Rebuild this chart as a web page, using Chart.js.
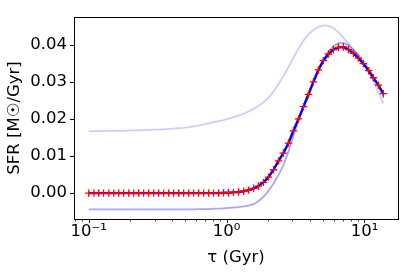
<!DOCTYPE html>
<html>
<head>
<meta charset="utf-8">
<script src="https://cdn.jsdelivr.net/npm/chart.js@4"></script>
<style>
  html, body { margin: 0; padding: 0; background: #fff; }
</style>
</head>
<body>
<canvas id="sfr-chart" width="407" height="272"></canvas>
<script>
// lookback time grid (Gyr)
const tau = [0.1, 0.109, 0.118, 0.128, 0.14, 0.152, 0.165, 0.179, 0.195, 0.212,
  0.23, 0.25, 0.272, 0.296, 0.321, 0.349, 0.38, 0.413, 0.449, 0.488,
  0.53, 0.576, 0.626, 0.681, 0.74, 0.804, 0.874, 0.95, 1.03, 1.12,
  1.22, 1.33, 1.44, 1.57, 1.7, 1.85, 2.01, 2.19, 2.38, 2.58,
  2.81, 3.05, 3.32, 3.61, 3.92, 4.26, 4.63, 5.03, 5.47, 5.95,
  6.46, 7.03, 7.64, 8.3, 9.02, 9.81, 10.7, 11.6, 12.6, 13.7];

// best fit (blue line + red crosses)
const sfrFit = [0, 0, 0, 0, 0, 0, 0, 0, 0, 0,
  0, 0, 0, 0, 0, 0, 0, 0, 0, 0,
  0, 0, 0, 0, 0, 0, 0, 0.0001, 0.0001, 0.0002,
  0.0003, 0.0005, 0.0008, 0.0013, 0.0019, 0.0029, 0.0043, 0.0063, 0.0087, 0.0108,
  0.0135, 0.0168, 0.0200, 0.0233, 0.0266, 0.0300, 0.0332, 0.0357, 0.0375, 0.0387,
  0.0393, 0.0394, 0.0387, 0.0377, 0.0364, 0.0349, 0.0330, 0.0311, 0.0291, 0.0268];

// samples (faint lines)
const sfrHigh = [0.0167, 0.0167, 0.0167, 0.0167, 0.0168, 0.0168, 0.0168, 0.0168, 0.0169, 0.0169,
  0.0169, 0.0170, 0.0170, 0.0171, 0.0171, 0.0172, 0.0173, 0.0174, 0.0175, 0.0176,
  0.0178, 0.0180, 0.0182, 0.0185, 0.0188, 0.0191, 0.0194, 0.0197, 0.0201, 0.0205,
  0.0209, 0.0214, 0.0220, 0.0227, 0.0235, 0.0245, 0.0257, 0.0274, 0.0294, 0.0315,
  0.0340, 0.0365, 0.0390, 0.0411, 0.0428, 0.0440, 0.0448, 0.0452, 0.0451, 0.0445,
  0.0434, 0.0419, 0.0403, 0.0386, 0.0369, 0.0352, 0.0328, 0.0301, 0.0272, 0.0242];

const sfrLow = [-0.0044, -0.0044, -0.0044, -0.0044, -0.0044, -0.0044, -0.0044, -0.0044, -0.0044, -0.0044,
  -0.0044, -0.0044, -0.0044, -0.0044, -0.0044, -0.0044, -0.0044, -0.0044, -0.0044, -0.0044,
  -0.0044, -0.0044, -0.0043, -0.0043, -0.0043, -0.0042, -0.0042, -0.0041, -0.0040, -0.0039,
  -0.0038, -0.0036, -0.0034, -0.0030, -0.0022, -0.0010, 0.0006, 0.0026, 0.0049, 0.0075,
  0.0112, 0.0155, 0.0196, 0.0234, 0.0268, 0.0302, 0.0334, 0.0360, 0.0381, 0.0396,
  0.0404, 0.0405, 0.0399, 0.0387, 0.0372, 0.0355, 0.0335, 0.0313, 0.0289, 0.0262];

// ticks
const yTicks = [0, 0.01, 0.02, 0.03, 0.04];
const xMajor = [0.1, 1, 10];
const xMinor = [0.08, 0.09, 0.2, 0.3, 0.4, 0.5, 0.6, 0.7, 0.8, 0.9, 2, 3, 4, 5, 6, 7, 8, 9];
const xLabels = { 0.1: '10\u207B\u00B9', 1: '10\u2070', 10: '10\u00B9' };

const FONT = { family: 'DejaVu Sans', size: 16.5 };

function pts(ys) {
    return tau.map((t, i) => ({ x: t, y: ys[i] }));
}

// frame and tick marks, matplotlib style
const frameTicks = {
    id: 'frameTicks',
    afterDraw(chart) {
        const { ctx, chartArea: a, scales } = chart;
        ctx.save();
        ctx.strokeStyle = '#000';
        ctx.lineWidth = 1;
        ctx.strokeRect(Math.round(a.left) + 0.5, Math.round(a.top) + 0.5,
            Math.round(a.right - a.left), Math.round(a.bottom - a.top));
        ctx.beginPath();
        yTicks.forEach(v => {
            const y = Math.round(scales.y.getPixelForValue(v)) + 0.5;
            ctx.moveTo(a.left - 4, y);
            ctx.lineTo(a.left, y);
        });
        xMajor.forEach(v => {
            const x = Math.round(scales.x.getPixelForValue(v)) + 0.5;
            ctx.moveTo(x, a.bottom);
            ctx.lineTo(x, a.bottom + 4);
        });
        ctx.stroke();
        ctx.beginPath();
        ctx.lineWidth = 0.8;
        xMinor.forEach(v => {
            const x = Math.round(scales.x.getPixelForValue(v)) + 0.5;
            ctx.moveTo(x, a.bottom);
            ctx.lineTo(x, a.bottom + 2.5);
        });
        ctx.stroke();
        ctx.restore();
    }
};

Chart.defaults.color = '#000';
Chart.defaults.font.family = 'DejaVu Sans';

const ctx = document.getElementById('sfr-chart').getContext('2d');
new Chart(ctx, {
    type: 'scatter',
    data: {
        datasets: [
            {
                label: 'fit points',
                data: pts(sfrFit),
                showLine: false,
                pointStyle: 'cross',
                pointRadius: 3.7,
                pointBorderColor: '#ff0000',
                pointBorderWidth: 1.3
            },
            {
                label: 'fit',
                data: pts(sfrFit),
                showLine: true,
                borderColor: '#0000ff',
                borderWidth: 2.4,
                pointRadius: 0
            },
            {
                label: 'low',
                data: pts(sfrLow),
                showLine: true,
                borderColor: 'rgba(0, 0, 255, 0.35)',
                borderWidth: 1.8,
                pointRadius: 0
            },
            {
                label: 'high',
                data: pts(sfrHigh),
                showLine: true,
                borderColor: 'rgba(0, 0, 255, 0.2)',
                borderWidth: 1.8,
                pointRadius: 0
            }
        ]
    },
    options: {
        responsive: false,
        animation: false,
        layout: { padding: { top: 7, right: 9, left: 0, bottom: 0 } },
        plugins: {
            legend: { display: false },
            tooltip: { enabled: false }
        },
        scales: {
            x: {
                type: 'logarithmic',
                min: 0.0782,
                max: 17.5,
                afterFit: s => { s.height = 53; },
                afterBuildTicks: s => { s.ticks = xMajor.map(v => ({ value: v })); },
                grid: { display: false, drawTicks: false },
                border: { display: false },
                ticks: {
                    autoSkip: false,
                    maxRotation: 0,
                    padding: 3,
                    font: FONT,
                    callback: v => xLabels[v] || ''
                },
                title: {
                    display: true,
                    text: '\u03C4 (Gyr)',
                    font: FONT,
                    padding: { top: 0, bottom: 4 }
                }
            },
            y: {
                min: -0.00698,
                max: 0.0475,
                afterFit: s => { s.width = 74; },
                afterBuildTicks: s => { s.ticks = yTicks.map(v => ({ value: v })); },
                grid: { display: false, drawTicks: false },
                border: { display: false },
                ticks: {
                    padding: 7,
                    font: FONT,
                    callback: v => v.toFixed(2)
                },
                title: {
                    display: true,
                    text: 'SFR [M\u2609/Gyr]',
                    font: FONT,
                    padding: { top: 5, bottom: 0 }
                }
            }
        }
    },
    plugins: [frameTicks]
});
</script>
</body>
</html>
